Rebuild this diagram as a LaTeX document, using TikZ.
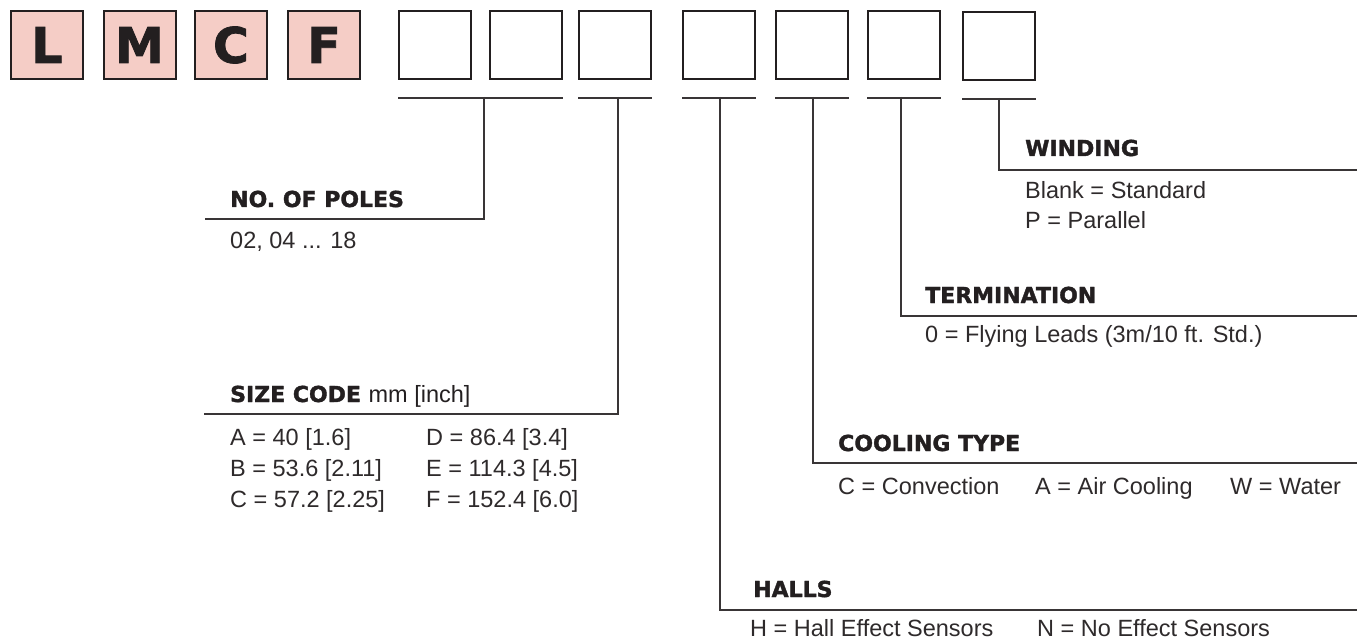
\documentclass[tikz,border=0pt]{standalone}
\usepackage{fontspec}
\setmainfont{Liberation Sans}
\newfontfamily\headfont[BoldFeatures={FakeBold=1.6}]{DejaVu Sans}
\usepackage{xcolor}
\usepackage{tikz}
\usetikzlibrary{positioning,calc}
\definecolor{boxpink}{RGB}{245,205,198}
\definecolor{ink}{RGB}{35,31,32}

\begin{document}
\begin{tikzpicture}[x=1pt, y=-1pt,
    letterbox/.style={rectangle, minimum width=72pt, minimum height=68pt, inner sep=0pt, draw=ink, line width=2pt, fill=boxpink, text=ink, font=\headfont\bfseries\fontsize{49}{49}\selectfont},
    blankbox/.style={rectangle, minimum width=72pt, minimum height=68pt, inner sep=0pt, draw=ink, line width=2pt, fill=white},
    head/.style={anchor=base west, inner sep=0pt, text=ink, font=\headfont\bfseries\fontsize{22}{24}\selectfont},
    body/.style={anchor=base west, inner sep=0pt, text=ink!95, font=\fontsize{23.5}{26}\selectfont},
    line/.style={draw=ink!90, line width=1.4pt}
]
    \useasboundingbox (0,0) rectangle (1357,639);

    % Fixed part of the code
    \node[letterbox] (L) at (47,45)    {L};
    \node[letterbox] (M) at (139.5,45) {M};
    \node[letterbox] (C) at (231,45)   {C};
    \node[letterbox] (F) at (324,45)   {F};

    % Open positions
    \node[blankbox] (b1) at (435,45) {};
    \node[blankbox] (b2) at (526,45) {};
    \node[blankbox] (b3) at (615,45) {};
    \node[blankbox] (b4) at (719,45) {};
    \node[blankbox] (b5) at (812,45) {};
    \node[blankbox] (b6) at (904,45) {};
    \node[blankbox] (b7) at (999,46) {};

    % Bars under the open positions
    \draw[line] ($(b1.south west)+(0,18)$) -- ($(b2.south east)+(0,18)$);
    \foreach \b in {b3,b4,b5,b6,b7} {
        \draw[line] ($(\b.south west)+(0,18)$) -- ($(\b.south east)+(0,18)$);
    }

    % Leader start and end points
    \coordinate (t_poles) at (484,97);  \coordinate (e_poles) at (205,219);
    \coordinate (t_size)  at (618,97);  \coordinate (e_size)  at (204,414);
    \coordinate (t_halls) at (720,97);  \coordinate (e_halls) at (1357,610);
    \coordinate (t_cool)  at (813,97);  \coordinate (e_cool)  at (1357,463);
    \coordinate (t_term)  at (901,97);  \coordinate (e_term)  at (1357,316);
    \coordinate (t_wind)  at (999,98);  \coordinate (e_wind)  at (1357,170);

    \draw[line] (t_poles) |- (e_poles);
    \draw[line] (t_size)  |- (e_size);
    \draw[line] (t_halls) |- (e_halls);
    \draw[line] (t_cool)  |- (e_cool);
    \draw[line] (t_term)  |- (e_term);
    \draw[line] (t_wind)  |- (e_wind);

    % No. of poles
    \node[head] (poles)   at (230,207) {NO. OF POLES};
    \node[body] (poles_v) at (230,248) {02, 04 ... 18};

    % Size code
    \node[head] (size) at (230,402) {SIZE CODE {\normalfont\fontsize{23.5}{26}\selectfont mm [inch]}};
    \node[body] (size_a) at (230,445) {A = 40 [1.6]};
    \node[body] (size_b) at (230,476) {B = 53.6 [2.11]};
    \node[body] (size_c) at (230,507) {C = 57.2 [2.25]};
    \node[body] (size_d) at (426,445) {D = 86.4 [3.4]};
    \node[body] (size_e) at (426,476) {E = 114.3 [4.5]};
    \node[body] (size_f) at (426,507) {F = 152.4 [6.0]};

    % Halls
    \node[head] (halls)   at (753,597) {HALLS};
    \node[body] (halls_h) at (750,636) {H = Hall Effect Sensors};
    \node[body] (halls_n) at (1037,636) {N = No Effect Sensors};

    % Cooling type
    \node[head] (cool)   at (838,451) {COOLING TYPE};
    \node[body] (cool_c) at (838,494) {C = Convection};
    \node[body] (cool_a) at (1035,494) {A = Air Cooling};
    \node[body] (cool_w) at (1230,494) {W = Water};

    % Termination
    \node[head] (term)   at (925,303) {TERMINATION};
    \node[body] (term_0) at (925,342) {0 = Flying Leads (3m/10 ft. Std.)};

    % Winding
    \node[head] (wind)   at (1025,156) {WINDING};
    \node[body] (wind_b) at (1025,199) {Blank = Standard};
    \node[body] (wind_p) at (1025,229) {P = Parallel};
\end{tikzpicture}
\end{document}
